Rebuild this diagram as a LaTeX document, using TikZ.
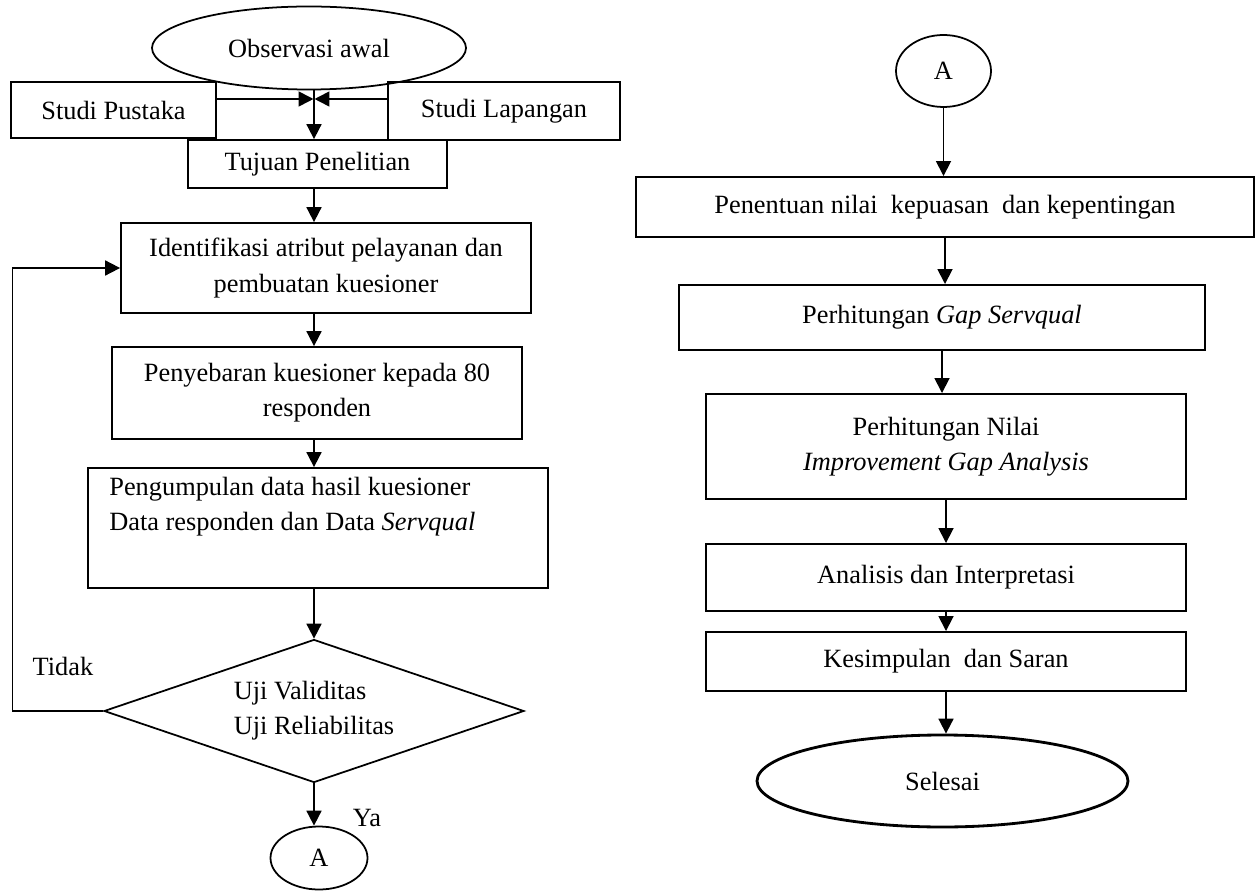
\documentclass[tikz,border=0pt]{standalone}
\usepackage{fontspec}
\setmainfont{Liberation Serif}
\usepackage{tikz}
\usetikzlibrary{shapes.geometric, positioning, arrows.meta}
\tikzset{
>={Triangle[length=8.5pt,width=8.5pt]}, % filled arrow heads
every node/.style={font=\fontsize{15}{20}\selectfont}, % text size of all nodes
box/.style={draw, rectangle, line width=1pt, inner sep=0pt, align=center}, % process step
oval/.style={draw, ellipse, line width=1pt, inner sep=0pt}, % start, end and connector
decision/.style={draw, diamond, aspect=3, line width=1pt, inner sep=0pt, align=left}, % test
note/.style={inner sep=0pt, align=left}, % free text
flow/.style={->, line width=1pt}, % connector
}

\begin{document}
\begin{tikzpicture}
            \useasboundingbox (0,0) rectangle (25.12,-17.82);
            % left column
            \node[oval, minimum width=6.28cm, minimum height=1.66cm] (obs) at (6.18,-0.96) {Observasi awal};
            \node[box, minimum width=4.1cm, minimum height=1.12cm] (pustaka) at (2.27,-2.2) {Studi Pustaka};
            \node[box, minimum width=4.65cm, minimum height=1.16cm] (lapangan) at (10.08,-2.22) {Studi Lapangan};
            \node[box, minimum width=5.18cm, minimum height=0.96cm] (tujuan) at (6.35,-3.28) {Tujuan Penelitian};
            \node[box, minimum width=8.2cm, minimum height=1.8cm] (ident) at (6.52,-5.36) {Identifikasi atribut pelayanan dan\\pembuatan kuesioner};
            \node[box, minimum width=8.2cm, minimum height=1.84cm] (sebar) at (6.34,-7.86) {Penyebaran kuesioner kepada 80\\responden};
            \node[box, minimum width=9.2cm, minimum height=2.4cm] (kumpul) at (6.36,-10.56) {};
            \node[note, anchor=north west] (kumpultext) at (2.18,-9.54) {Pengumpulan data hasil kuesioner\\Data responden dan Data \textit{Servqual}};
            \node[decision, minimum width=8.4cm, minimum height=2.86cm] (uji) at (6.28,-14.22) {Uji Validitas\\Uji Reliabilitas};
            \node[note] (tidak) at (1.26,-13.32) {Tidak};
            \node[oval, minimum width=1.94cm, minimum height=1.26cm] (a1) at (6.38,-17.16) {A};
            \node[note] (ya) at (7.34,-16.36) {Ya};
            \coordinate (jn) at (6.28,-1.98);
            \coordinate (fb) at (0.25,0);
            % right column
            \node[oval, minimum width=1.9cm, minimum height=1.44cm] (a2) at (18.87,-1.42) {A};
            \node[box, line width=1.1pt, minimum width=12.36cm, minimum height=1.2cm] (tentu) at (18.9,-4.14) {Penentuan nilai\ \ kepuasan\ \ dan kepentingan};
            \node[box, line width=1.1pt, minimum width=10.52cm, minimum height=1.3cm] (gap) at (18.84,-6.35) {Perhitungan \textit{Gap Servqual}};
            \node[box, line width=1.1pt, minimum width=9.6cm, minimum height=2.1cm] (nilai) at (18.92,-8.93) {Perhitungan Nilai\\\textit{Improvement Gap Analysis}};
            \node[box, line width=1.1pt, minimum width=9.6cm, minimum height=1.34cm] (analisis) at (18.92,-11.55) {Analisis dan Interpretasi};
            \node[box, line width=1.1pt, minimum width=9.6cm, minimum height=1.18cm] (simpul) at (18.92,-13.23) {Kesimpulan\ \ dan Saran};
            \node[oval, line width=1.6pt, minimum width=7.42cm, minimum height=1.84cm] (selesai) at (18.85,-15.62) {Selesai};

            \draw[flow] (jn |- obs.south) -- (jn |- tujuan.north);
            \draw[flow] (pustaka.east |- jn) -- ([xshift=-0.3pt]jn);
            \draw[flow] (lapangan.west |- jn) -- ([xshift=0.3pt]jn);
            \draw[flow] (jn |- tujuan.south) -- (jn |- ident.north);
            \draw[flow] (jn |- ident.south) -- (jn |- sebar.north);
            \draw[flow] (jn |- sebar.south) -- (jn |- kumpul.north);
            \draw[flow] (uji.north |- kumpul.south) -- (uji.north);
            \draw[flow] (uji.south) -- (uji.south |- a1.north);
            \draw[flow] (uji.west) -- (uji.west -| fb) |- (ident.west);

            \draw[flow] (a2.south) -- (a2.south |- tentu.north);
            \draw[flow] (tentu.south) -- (tentu.south |- gap.north);
            \draw[flow] (gap.south) -- (gap.south |- nilai.north);
            \draw[flow] (nilai.south) -- (analisis.north);
            \draw[flow] (analisis.south) -- (simpul.north);
            \draw[flow] (simpul.south) -- (simpul.south |- selesai.north);
        \end{tikzpicture}
\end{document}
